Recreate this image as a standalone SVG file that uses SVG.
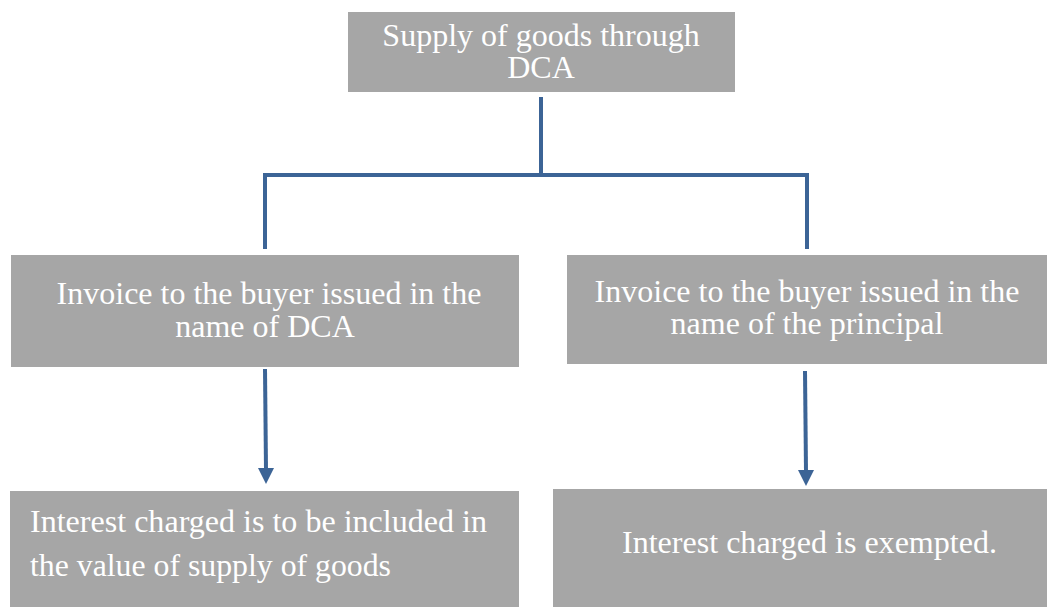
<svg xmlns="http://www.w3.org/2000/svg" width="1050" height="607" viewBox="0 0 1050 607">
<defs>
<style>
.box{fill:#a6a6a6;}
text{font-family:'Liberation Serif','Tinos','DejaVu Serif',serif;font-size:32px;fill:#ffffff;}
.c{text-anchor:middle;}
.b{font-size:31.5px;}
.ln{stroke:#3c6496;stroke-width:4;fill:none;}
.ah{fill:#3c6496;}
</style>
</defs>
<g id="n1">
<rect class="box" x="348" y="12" width="387" height="80"/>
<text class="c" x="541" y="46">Supply of goods through</text>
<text class="c" x="541" y="78">DCA</text>
</g>
<g id="n2">
<rect class="box" x="11" y="255" width="508" height="112"/>
<text class="c" x="269" y="304">Invoice to the buyer issued in the</text>
<text class="c" x="265" y="337">name of DCA</text>
</g>
<g id="n3">
<rect class="box" x="567" y="255" width="480" height="109"/>
<text class="c" x="807" y="302">Invoice to the buyer issued in the</text>
<text class="c" x="807" y="334">name of the principal</text>
</g>
<g id="n4">
<rect class="box" x="10" y="491" width="509" height="116"/>
<text class="b" x="30" y="532" textLength="457" lengthAdjust="spacingAndGlyphs">Interest charged is to be included in</text>
<text class="b" x="30" y="576" textLength="361" lengthAdjust="spacingAndGlyphs">the value of supply of goods</text>
</g>
<g id="n5">
<rect class="box" x="553" y="489" width="494" height="118"/>
<text class="b" x="622" y="553" textLength="375" lengthAdjust="spacingAndGlyphs">Interest charged is exempted.</text>
</g>
<g id="connectors">
<path class="ln" d="M541,97 V175"/>
<path class="ln" d="M263,175 H809"/>
<path class="ln" d="M265,175 V249"/>
<path class="ln" d="M807,175 V249"/>
<path class="ln" d="M265,369 L266,470"/>
<polygon class="ah" points="258,468 274,468 266,484"/>
<path class="ln" d="M805,371 L806,472"/>
<polygon class="ah" points="798,470 814,470 806,486"/>
</g>
</svg>
